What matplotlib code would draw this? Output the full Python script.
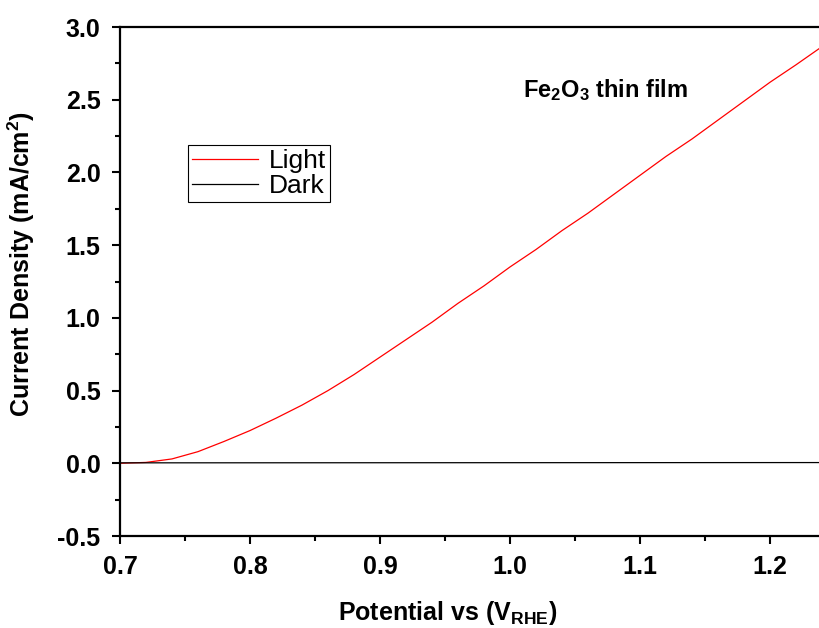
import numpy as np
import matplotlib
matplotlib.use('Agg')
from matplotlib import pyplot as plt
from matplotlib.ticker import MultipleLocator

# Potential (V vs RHE) and current density (mA/cm^2)
potential = [0.70, 0.72, 0.74, 0.76, 0.78, 0.80, 0.82, 0.84, 0.86, 0.88,
             0.90, 0.92, 0.94, 0.96, 0.98, 1.00, 1.02, 1.04, 1.06, 1.08,
             1.10, 1.12, 1.14, 1.16, 1.18, 1.20, 1.22, 1.244]
light = [0.0, 0.006, 0.03, 0.08, 0.15, 0.225, 0.31, 0.40, 0.50, 0.61,
         0.73, 0.85, 0.97, 1.10, 1.22, 1.35, 1.47, 1.60, 1.72, 1.85,
         1.98, 2.11, 2.23, 2.36, 2.49, 2.62, 2.74, 2.89]
dark_potential = [0.70, 1.244]
dark = [0.003, 0.005]

plt.rcParams['font.family'] = ['Liberation Sans', 'DejaVu Sans']
plt.rcParams['font.weight'] = 'bold'
plt.rcParams['axes.labelweight'] = 'bold'
plt.rcParams['axes.unicode_minus'] = False
plt.rcParams['mathtext.fontset'] = 'custom'
plt.rcParams['mathtext.rm'] = 'Liberation Sans:bold'
plt.rcParams['mathtext.bf'] = 'Liberation Sans:bold'
plt.rcParams['mathtext.it'] = 'Liberation Sans:bold'
plt.rcParams['mathtext.default'] = 'rm'

fig = plt.figure(figsize=(8.19, 6.28), dpi=100)
ax = fig.add_axes([120 / 819, 1 - 536 / 628, 1 - 120 / 819 + 0.01, (536 - 27) / 628])

ax.plot(potential, light, color='red', lw=0.9, label='Light')
ax.plot(dark_potential, dark, color='black', lw=0.9, label='Dark')

ax.set_xlim(0.7, 1.244)
ax.set_ylim(-0.5, 3.0)
ax.xaxis.set_major_locator(MultipleLocator(0.1))
ax.xaxis.set_minor_locator(MultipleLocator(0.05))
ax.yaxis.set_major_locator(MultipleLocator(0.5))
ax.yaxis.set_minor_locator(MultipleLocator(0.25))
ax.tick_params(which='major', direction='out', length=6, width=1.5, labelsize=18)
ax.tick_params(axis='x', which='major', pad=8)
ax.tick_params(axis='y', which='major', pad=8)
ax.tick_params(which='minor', direction='out', length=3.5, width=1.5)
for s in ax.spines.values():
    s.set_linewidth(1.6)

ax.set_xlabel('Potential vs (V$_{RHE}$)', fontsize=18)
ax.set_ylabel('Current Density (mA/cm$^{2}$)', fontsize=18)
ax.xaxis.set_label_coords(0.464, -0.124)
ax.yaxis.set_label_coords(-0.118, 0.535)

ax.text(0.57, 0.862, 'Fe$_{2}$O$_{3}$ thin film', transform=ax.transAxes, fontsize=17)

leg = ax.legend(loc='upper left', bbox_to_anchor=(0.096, 0.768),
                prop={'size': 19, 'weight': 'normal'}, frameon=True,
                fancybox=False, edgecolor='black', framealpha=1, handlelength=2.5,
                borderpad=0.15, labelspacing=0.05, handletextpad=0.4, borderaxespad=0)
leg.get_frame().set_linewidth(0.8)

plt.savefig('out.png', dpi=100)
